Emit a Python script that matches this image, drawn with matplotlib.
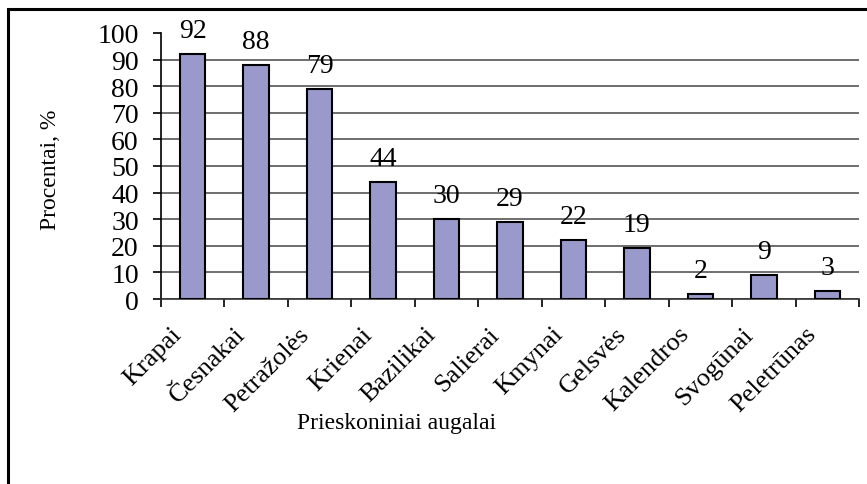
import matplotlib.pyplot as plt
from matplotlib.patches import Rectangle
from matplotlib.transforms import ScaledTranslation

# data
categories = ["Krapai", "Česnakai", "Petražolės", "Krienai", "Bazilikai", "Salierai",
              "Kmynai", "Gelsvės", "Kalendros", "Svogūnai", "Peletrūnas"]
values = [92, 88, 79, 44, 30, 29, 22, 19, 2, 9, 3]
y_ticks = list(range(0, 101, 10))

BAR_COLOR = "#9999CC"
FONT = ["Liberation Serif", "DejaVu Serif"]

plt.rcParams["font.family"] = FONT

fig = plt.figure(figsize=(8.67, 4.85), dpi=100)
ax = fig.add_axes([161 / 867, 1 - 300 / 485, 698 / 867, 266 / 485])

x = list(range(len(categories)))
bars = ax.bar(x, values, width=0.4, color=BAR_COLOR, edgecolor="black", linewidth=1.5, zorder=3)

# value labels above the bars
for rect, v in zip(bars, values):
    ax.annotate(str(v), (rect.get_x() + rect.get_width() / 2, rect.get_height()),
                xytext=(0, 17), textcoords="offset points", ha="center", va="center", fontsize=20)

ax.set_xlim(-0.5, len(categories) - 0.5)
ax.set_ylim(0, 100)
ax.set_yticks(y_ticks)
ax.yaxis.grid(True, color="#555555", linewidth=1.2, zorder=0)
ax.get_ygridlines()[-1].set_visible(False)

# Excel style: ticks between categories, labels in the middle
ax.set_xticks(x)
ax.set_xticklabels(categories, rotation=45, ha="right", rotation_mode="anchor", fontsize=19)
ax.set_xticks([i - 0.5 for i in range(len(categories) + 1)], minor=True)
ax.tick_params(axis="x", which="major", length=0, pad=17)
ax.tick_params(axis="x", which="minor", length=6, width=1.2, direction="out")
ax.tick_params(axis="y", length=6, width=1.2, direction="out", pad=10, labelsize=20)
# shift the rotated labels a bit to the left, as in the original
shift = ScaledTranslation(-22 / 100, 0, fig.dpi_scale_trans)
for lbl in ax.get_xticklabels():
    lbl.set_transform(lbl.get_transform() + shift)

for side in ["top", "right"]:
    ax.spines[side].set_visible(False)
ax.spines["left"].set_linewidth(1.2)
ax.spines["bottom"].set_linewidth(1.2)
ax.spines["bottom"].set_color("#333333")

fig.text(50 / 867, 1 - 170 / 485, "Procentai, %", rotation=90, ha="center", va="center", fontsize=17)
fig.text(397 / 867, 1 - 424 / 485, "Prieskoniniai augalai", ha="center", va="center", fontsize=17)

# chart area border (only top and left sides visible in the crop)
fig.patches.append(Rectangle((8 / 867, -0.1), 1.2, 1.1 - 10 / 485, transform=fig.transFigure,
                             fill=False, edgecolor="black", linewidth=2.2))

fig.savefig("out.png", dpi=100)
